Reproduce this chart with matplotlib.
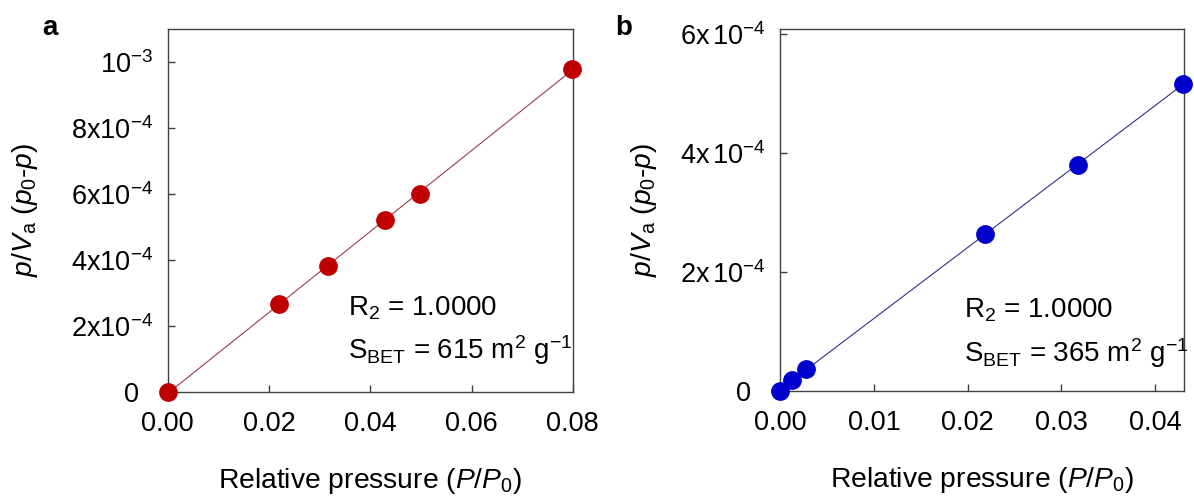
import numpy as np
import matplotlib
matplotlib.use('Agg')
import matplotlib.pyplot as plt

plt.rcParams['font.family'] = ['Liberation Sans', 'DejaVu Sans']
plt.rcParams['mathtext.fontset'] = 'custom'
plt.rcParams['mathtext.rm'] = 'Liberation Sans'
plt.rcParams['mathtext.it'] = 'Liberation Sans:italic'
plt.rcParams['mathtext.bf'] = 'Liberation Sans:bold'
plt.rcParams['mathtext.sf'] = 'Liberation Sans'

# panel a data (BET plot)
a_x = [0.0, 0.0220, 0.0317, 0.0429, 0.0498, 0.0798]
a_y = [0.0, 2.65e-4, 3.80e-4, 5.20e-4, 6.00e-4, 9.80e-4]
a_xticks = [0.0, 0.02, 0.04, 0.06, 0.08]
a_xlabels = ['0.00', '0.02', '0.04', '0.06', '0.08']
a_yticks = [0.0, 2e-4, 4e-4, 6e-4, 8e-4, 1e-3]
a_ylabels = ['0', r'$\mathregular{2x10^{-4}}$', r'$\mathregular{4x10^{-4}}$',
             r'$\mathregular{6x10^{-4}}$', r'$\mathregular{8x10^{-4}}$',
             r'$\mathregular{10^{-3}}$']
a_text = [r'$\mathregular{R_2}$ = 1.0000',
          r'$\mathregular{S_{BET}}$ = 615 m$\mathregular{^2}$ g$\mathregular{^{-1}}$']

# panel b data
b_x = [0.0, 0.00121, 0.00275, 0.02186, 0.03182, 0.04304]
b_y = [0.0, 1.8e-5, 3.75e-5, 2.64e-4, 3.80e-4, 5.16e-4]
b_xticks = [0.0, 0.01, 0.02, 0.03, 0.04]
b_xlabels = ['0.00', '0.01', '0.02', '0.03', '0.04']
b_yticks = [0.0, 2e-4, 4e-4, 6e-4]
b_ylabels = ['0', r'$\mathregular{2x\,10^{-4}}$', r'$\mathregular{4x\,10^{-4}}$',
             r'$\mathregular{6x\,10^{-4}}$']
b_text = [r'$\mathregular{R_2}$ = 1.0000',
          r'$\mathregular{S_{BET}}$ = 365 m$\mathregular{^2}$ g$\mathregular{^{-1}}$']

fig = plt.figure(figsize=(11.94, 4.97), dpi=100)
ax_a = fig.add_axes([0.1405, 0.2119, 0.3392, 0.7298])
ax_b = fig.add_axes([0.6535, 0.2133, 0.3381, 0.7284])

panels = [
    (ax_a, a_x, a_y, '#c00000', '#9c3c50', a_xticks, a_xlabels, a_yticks, a_ylabels,
     (0, 0.08), (0, 1.1e-3), a_text, (0.445, 0.209, 0.090), -0.315),
    (ax_b, b_x, b_y, '#0000cc', '#303090', b_xticks, b_xlabels, b_yticks, b_ylabels,
     (0, 0.0431), (0, 6.08e-4), b_text, (0.455, 0.202, 0.080), -0.30),
]

for (ax, xs, ys, mcol, lcol, xt, xl, yt, yl, xlim, ylim, txt, tpos, ylab_x) in panels:
    # linear fit line
    k, c = np.polyfit(xs, ys, 1)
    fx = np.array([xs[0], xs[-1]])
    ax.plot(fx, k * fx + c, color=lcol, lw=0.8, zorder=2)
    ax.plot(xs, ys, 'o', color=mcol, ms=12.5, zorder=3, clip_on=False)
    ax.set_xlim(*xlim)
    ax.set_ylim(*ylim)
    ax.set_xticks(xt)
    ax.set_xticklabels(xl)
    ax.set_yticks(yt)
    ax.set_yticklabels(yl)
    ax.tick_params(axis='both', direction='in', length=5, width=1, color='#404040',
                   labelsize=19.5)
    ax.tick_params(axis='x', pad=14)
    ax.tick_params(axis='y', pad=10.5)
    # the zero label sits further left in the original
    ax.yaxis.get_major_ticks()[0].set_pad(21)
    for s in ax.spines.values():
        s.set_color('#404040')
        s.set_linewidth(1.0)
    ax.set_xlabel(r'Relative pressure ($P/P_\mathit{0}$)', fontsize=20.3)
    ax.xaxis.set_label_coords(0.5, -0.205)
    ax.set_ylabel(r'$p/V_\mathregular{a}\ (p_\mathit{0}$-$p$)', fontsize=20.3)
    ax.yaxis.set_label_coords(ylab_x, 0.5)
    ax.text(tpos[0], tpos[1], txt[0], transform=ax.transAxes, fontsize=20, va='baseline')
    ax.text(tpos[0], tpos[2], txt[1], transform=ax.transAxes, fontsize=20, va='baseline')

fig.text(0.035, 0.9296, 'a', fontsize=20, fontweight='bold', va='baseline')
fig.text(0.515, 0.9296, 'b', fontsize=20, fontweight='bold', va='baseline')

fig.savefig('out.png', dpi=100)
